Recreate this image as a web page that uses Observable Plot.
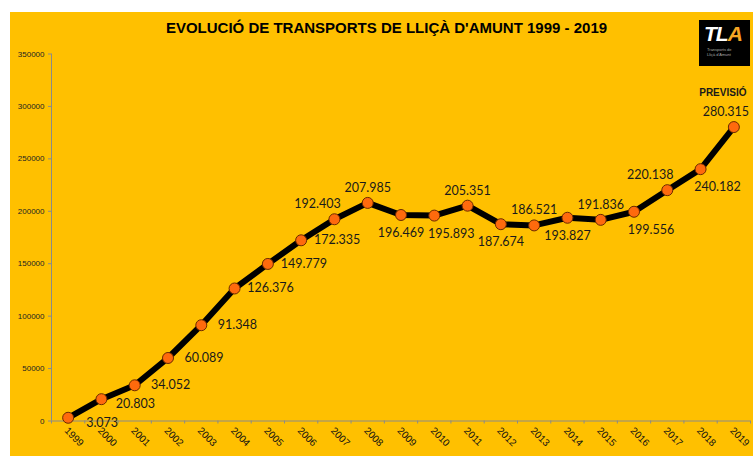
<!DOCTYPE html>
<html>
<head>
<meta charset="utf-8">
<script src="https://cdn.jsdelivr.net/npm/d3@7"></script>
<script src="https://cdn.jsdelivr.net/npm/@observablehq/plot@0.6"></script>
<style>
  html, body { margin: 0; padding: 0; background: #fff; }
  #wrap { position: relative; width: 753px; height: 456px; overflow: hidden; }
  #bg { position: absolute; left: 10px; top: 12px; right: 0; bottom: 0; background: #FFC000; }
  #title { position: absolute; left: 0; width: 773px; top: 19px; text-align: center;
    font-family: "Liberation Sans", Arial, sans-serif; font-weight: bold; font-size: 15px; color: #000; }
  #chart { position: absolute; left: 0; top: 0; }
  #logo { position: absolute; left: 699px; top: 20px; width: 51px; height: 46px; background: #000; }
  #logo .tla { position: absolute; left: 5px; top: 2px; font-family: "Liberation Sans", Arial, sans-serif;
    font-weight: bold; font-style: italic; font-size: 21px; color: #fff; letter-spacing: -1px; }
  #logo .tla span { color: #F5A623; }
  #logo .sub { position: absolute; left: 8px; top: 27px; width: 38px; font-family: "Liberation Sans", Arial, sans-serif;
    font-size: 4px; line-height: 5px; color: #aaa; }
</style>
</head>
<body>
<div id="wrap">
  <div id="bg"></div>
  <div id="chart"></div>
  <div id="title">EVOLUCIÓ DE TRANSPORTS DE LLIÇÀ D'AMUNT 1999 - 2019</div>
  <div id="logo"><div class="tla">TL<span>A</span></div><div class="sub">Transports de<br>Lliçà d'Amunt</div></div>
</div>
<script>
const years = [1999,2000,2001,2002,2003,2004,2005,2006,2007,2008,2009,2010,2011,2012,2013,2014,2015,2016,2017,2018,2019];
const passengers = [3073,20803,34052,60089,91348,126376,149779,172335,192403,207985,196469,195893,205351,187674,186521,193827,191836,199556,220138,240182,280315];
const labelPlacement = ["RB","RB","R","R","R","R","R","R","AL","A","B","BR","A","B","A","B","A","BR","AL","BR","AE"];
const yTicks = [0,50000,100000,150000,200000,250000,300000,350000];
const forecastLabel = "PREVISIÓ";

const data = years.map((y, i) => ({year: y, value: passengers[i], place: labelPlacement[i]}));
const fmt = d3.formatLocale({decimal: ",", thousands: ".", grouping: [3], currency: ["", "€"]}).format(",d");

const offsets = {
  RB: [34, 5], R: [36, 0], AL: [-17, -15], A: [0, -15], B: [0, 18], BR: [17, 18], AE: [-8, -15]
};
const boundaries = [...years.map(y => y - 0.5), years[years.length - 1] + 0.5];
const labelFont = "Lato, 'Open Sans', sans-serif";

const labelMarks = Object.entries(offsets).map(([code, [dx, dy]]) =>
  Plot.text(data.filter(d => d.place === code), {
    x: "year", y: "value", text: d => fmt(d.value), dx, dy,
    fontSize: 12.5, fontFamily: labelFont, fill: "#1a1a1a", textAnchor: "middle"
  })
);

const chart = Plot.plot({
  width: 753,
  height: 456,
  marginLeft: 51,
  marginRight: 3,
  marginTop: 53.5,
  marginBottom: 35.5,
  style: {background: "transparent", fontFamily: "'Liberation Sans', Arial, sans-serif", overflow: "visible"},
  x: {domain: [1998.5, 2019.5]},
  y: {domain: [0, 350000]},
  marks: [
    Plot.ruleY([0], {stroke: "#8a8a8a", strokeWidth: 1}),
    Plot.ruleX([1998.5], {stroke: "#8a8a8a", strokeWidth: 1}),
    Plot.axisY({ticks: yTicks, tickSize: 3, tickPadding: 4, tickFormat: d => String(d),
      fontSize: 8, stroke: "#8a8a8a", fill: "#222", label: null}),
    Plot.axisX({ticks: boundaries, tickSize: 3, tickFormat: () => "", stroke: "#8a8a8a", label: null}),
    Plot.axisX({ticks: years, tickSize: 0, tickPadding: 8, tickRotate: 45, tickFormat: d => String(d),
      fontSize: 10, dx: -2, fill: "#111", label: null}),
    Plot.line(data, {x: "year", y: "value", stroke: "#000", strokeWidth: 6, strokeLinejoin: "round", strokeLinecap: "round"}),
    Plot.dot(data, {x: "year", y: "value", r: 5.5, fill: "#FF6A0D", stroke: "#6b2a00", strokeWidth: 1}),
    ...labelMarks,
    Plot.text(data.slice(-1), {x: "year", y: "value", text: () => forecastLabel, dx: -11, dy: -34,
      fontSize: 10, fontWeight: "bold", fill: "#1a1a1a", textAnchor: "middle"})
  ]
});
document.getElementById("chart").appendChild(chart);
</script>
</body>
</html>
